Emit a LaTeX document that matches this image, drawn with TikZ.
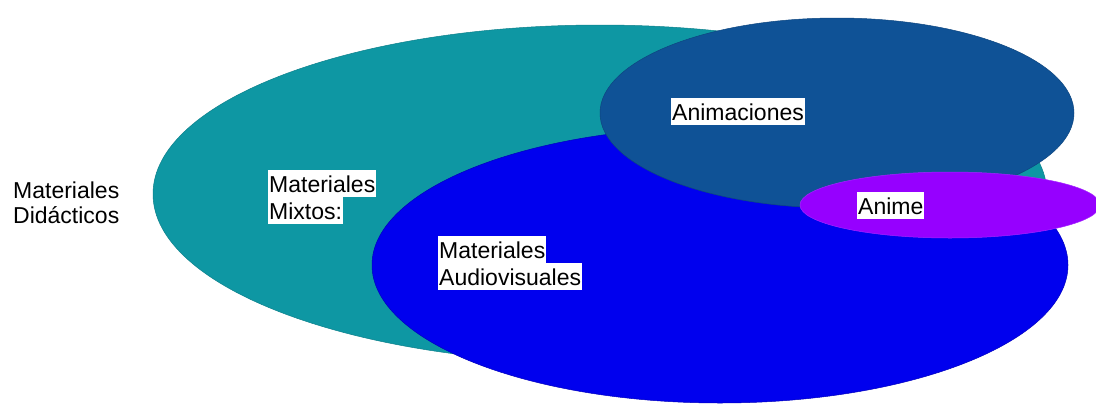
\documentclass[tikz,border=0pt]{standalone}
\usepackage{fontspec}
\setmainfont{Liberation Sans}
\definecolor{cteal}{RGB}{14,151,163}
\definecolor{cdark}{RGB}{15,82,150}
\definecolor{cblue}{RGB}{0,0,238}
\definecolor{cpurp}{RGB}{150,0,255}
\begin{document}
\begin{tikzpicture}[x=1pt,y=-1pt,
  lbl/.style={anchor=north west,fill=white,inner xsep=1pt,inner ysep=1.5pt,
    text height=20.5pt,text depth=3.5pt,font=\fontsize{23}{27}\selectfont},
  plain/.style={anchor=north west,inner xsep=1pt,inner ysep=1.5pt,
    text height=20.5pt,text depth=3.5pt,font=\fontsize{23}{27}\selectfont}]
\useasboundingbox (0,0) rectangle (1096,405);
\fill[white] (0,0) rectangle (1096,405);
% ellipses
\filldraw[fill=cteal,draw=cteal!85!black,line width=0.5pt] (600,194) ellipse [x radius=447,y radius=169];
\filldraw[fill=cblue,draw=cblue!80!black,line width=0.5pt] (720,265) ellipse [x radius=348,y radius=138];
\filldraw[fill=cdark,draw=cdark!85!black,line width=0.5pt] (837,113) ellipse [x radius=237,y radius=95];
\filldraw[fill=cpurp,draw=cpurp!85!white,line width=0.5pt] (950,205) ellipse [x radius=150,y radius=33];
% labels
\node[plain] (did1) at (12,176.5) {Materiales};
\node[plain] (did2) at (12,201.5) {Didácticos};
\node[lbl] (mix1) at (268,170) {Materiales};
\node[lbl] (mix2) at (268,197) {Mixtos:};
\node[lbl] (aud1) at (438,236) {Materiales};
\node[lbl] (aud2) at (438,263) {Audiovisuales};
\node[lbl] (anim) at (671,98) {Animaciones};
\node[lbl] (anime) at (857,192) {Anime};
\end{tikzpicture}
\end{document}
